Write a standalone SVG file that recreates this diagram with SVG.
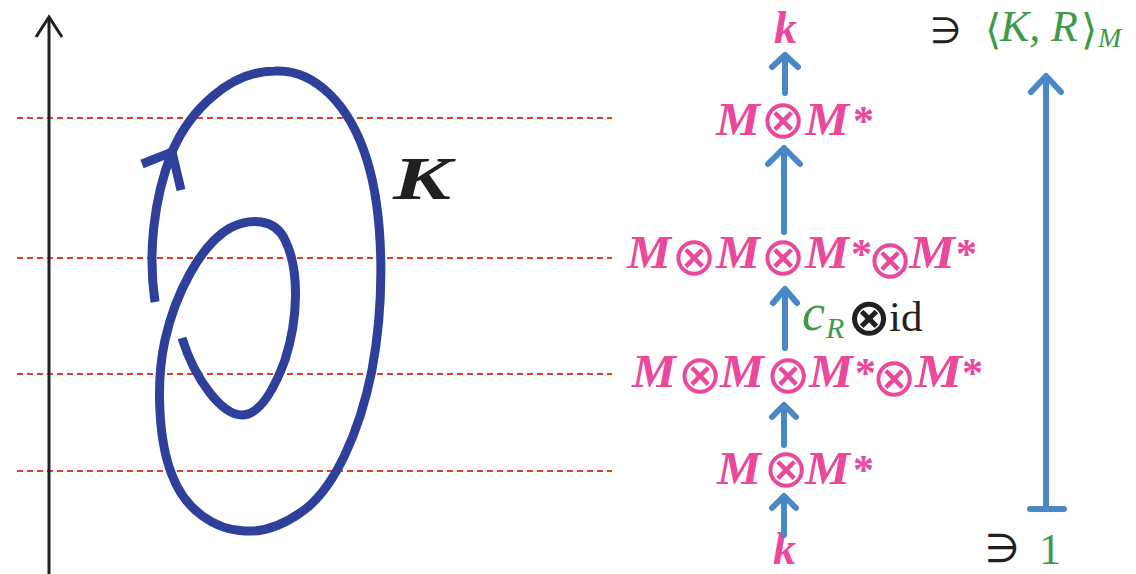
<svg xmlns="http://www.w3.org/2000/svg" width="1136" height="574" viewBox="0 0 1136 574">
<style>
.dash{stroke:#d9432a;stroke-width:2;stroke-dasharray:6 4;fill:none}
.ax{stroke:#231f20;stroke-width:3;fill:none}
.knot{stroke:#2e409a;stroke-width:9;fill:none}
.arr{stroke:#4a87c7;stroke-width:6;fill:none;stroke-linecap:round;stroke-linejoin:round}
.m{font-family:"Liberation Serif",serif;font-weight:bold;font-style:italic;font-size:46px;fill:#e9489b}
.st{font-family:"Liberation Serif",serif;font-weight:bold;font-size:42px;fill:#e9489b}
.ot{font-family:"DejaVu Sans",sans-serif;font-size:54px;fill:#e9489b}
.g{font-family:"Liberation Serif",serif;font-style:italic;fill:#3d9a48}
.gr{font-family:"Liberation Serif",serif;fill:#3d9a48}
.br{font-family:"DejaVu Sans",sans-serif;fill:#3d9a48}
.blk{font-family:"Liberation Serif",serif;fill:#231f20}
.ni{font-family:"DejaVu Sans",sans-serif;fill:#231f20}
</style>
<g id="levels">
<line class="dash" x1="17" y1="118" x2="612" y2="118"/>
<line class="dash" x1="17" y1="258" x2="612" y2="258"/>
<line class="dash" x1="17" y1="374" x2="612" y2="374"/>
<line class="dash" x1="17" y1="471" x2="612" y2="471"/>
</g>
<g id="axis">
<line class="ax" x1="49" y1="574" x2="49" y2="17"/>
<polyline class="ax" points="36,37 49,17 62,37"/>
</g>
<g id="knot">
<path class="knot" d="M155,302 C148,255 153,200 172,152 C190,110 230,71 275,71 C315,69 350,105 367,160 C384,215 385,300 372,370 C360,430 335,490 300,513 C280,527 262,532 245,531 C215,530 185,510 172,475 C158,440 156,380 165,340 C175,295 200,245 230,228 C250,218 275,218 285,240 C300,270 298,320 285,360 C272,395 258,415 242,415 C222,415 195,380 182,338"/>
<polyline class="knot" points="142,164 172,152 181,190"/>
<text x="393" y="199" font-family="Liberation Serif, serif" font-weight="bold" font-style="italic" font-size="62" fill="#231f20" textLength="58" lengthAdjust="spacingAndGlyphs">K</text>
</g>
<g id="node-k-top">
<text class="m" x="774" y="43">k</text>
</g>
<g id="node-MM1">
<text class="m" x="716" y="135" textLength="44" lengthAdjust="spacingAndGlyphs">M</text>
<text class="ot" x="783" y="138" text-anchor="middle">⊗</text>
<text class="m" x="805" y="135" textLength="44" lengthAdjust="spacingAndGlyphs">M</text>
<text class="st" x="853" y="135">*</text>
</g>
<g id="node-MMMM1">
<text class="m" x="627" y="268" textLength="44" lengthAdjust="spacingAndGlyphs">M</text>
<text class="ot" x="694" y="275" text-anchor="middle">⊗</text>
<text class="m" x="716" y="268" textLength="44" lengthAdjust="spacingAndGlyphs">M</text>
<text class="ot" x="783" y="275" text-anchor="middle">⊗</text>
<text class="m" x="805" y="268" textLength="44" lengthAdjust="spacingAndGlyphs">M</text>
<text class="st" x="851" y="268">*</text>
<text class="ot" x="890" y="278" text-anchor="middle">⊗</text>
<text class="m" x="909" y="268" textLength="46" lengthAdjust="spacingAndGlyphs">M</text>
<text class="st" x="956" y="268">*</text>
</g>
<g id="node-MMMM2">
<text class="m" x="632" y="387" textLength="44" lengthAdjust="spacingAndGlyphs">M</text>
<text class="ot" x="700" y="393" text-anchor="middle">⊗</text>
<text class="m" x="720" y="387" textLength="44" lengthAdjust="spacingAndGlyphs">M</text>
<text class="ot" x="788" y="393" text-anchor="middle">⊗</text>
<text class="m" x="809" y="387" textLength="44" lengthAdjust="spacingAndGlyphs">M</text>
<text class="st" x="855" y="387">*</text>
<text class="ot" x="894" y="396" text-anchor="middle">⊗</text>
<text class="m" x="915" y="387" textLength="47" lengthAdjust="spacingAndGlyphs">M</text>
<text class="st" x="962" y="387">*</text>
</g>
<g id="node-MM2">
<text class="m" x="717" y="484" textLength="44" lengthAdjust="spacingAndGlyphs">M</text>
<text class="ot" x="786" y="487" text-anchor="middle">⊗</text>
<text class="m" x="805" y="484" textLength="45" lengthAdjust="spacingAndGlyphs">M</text>
<text class="st" x="853" y="484">*</text>
</g>
<g id="node-k-bottom">
<text class="m" x="773" y="564">k</text>
</g>
<g id="node-pairing">
<text class="ni" x="930" y="43" font-size="36">∋</text>
<text class="br" x="985" y="44" font-size="42">⟨</text>
<text class="g" x="1000" y="41" font-size="44">K,</text>
<text class="g" x="1051" y="41" font-size="44">R</text>
<text class="br" x="1081" y="44" font-size="42">⟩</text>
<text class="g" x="1098" y="47" font-size="28">M</text>
</g>
<g id="node-one">
<text class="ni" x="985" y="562" font-size="40">∋</text>
<text class="gr" x="1039" y="564" font-size="44">1</text>
</g>
<g id="connectors">
<path class="arr" d="M785,93 V56 M772,67 L785,55 L798,67"/>
<path class="arr" d="M784,232 V148 M768,164 L784,148 L800,164"/>
<path class="arr" d="M785,348 V289 M773,303 L785,289 L797,303"/>
<path class="arr" d="M784,445 V406 M772,417 L784,405 L796,417"/>
<path class="arr" d="M784,535 V497 M772,508 L784,496 L796,508"/>
<path class="arr" d="M1046,509 V77 M1031,92 L1046,76 L1061,92 M1030,509 H1064"/>
</g>
<g id="label-cR">
<text class="g" x="802" y="330" font-size="52">c</text>
<text class="g" x="826" y="338" font-size="30">R</text>
<text x="869" y="335" text-anchor="middle" font-family="DejaVu Sans, sans-serif" font-weight="bold" font-size="52" fill="#231f20">⊗</text>
<text class="blk" x="889" y="331" font-size="43">id</text>
</g>
</svg>
